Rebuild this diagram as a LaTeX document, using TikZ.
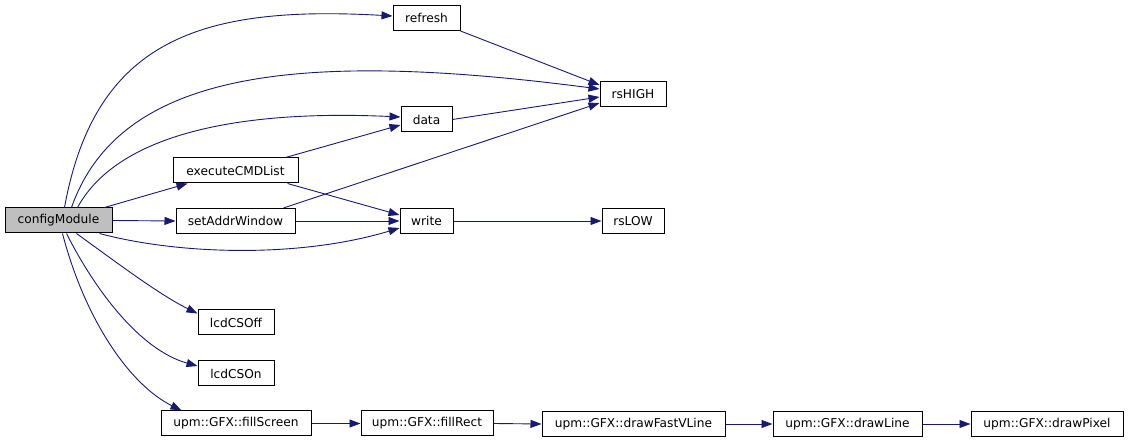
\documentclass[tikz,border=0pt]{standalone}
\usepackage{fontspec}
\setmainfont{DejaVu Sans}
\usetikzlibrary{arrows.meta}
\definecolor{edgecol}{HTML}{191970}
\definecolor{rootfill}{HTML}{BFBFBF}
\tikzset{
  fn/.style={draw=black, line width=1pt, fill=white, minimum height=25pt, inner sep=0pt, font=\fontsize{12.2}{14}\selectfont},
  rootfn/.style={fn, fill=rootfill},
  call/.style={draw=edgecol, line width=0.9pt, -{Triangle[length=11pt,width=8pt]}},
}
\begin{document}
\begin{tikzpicture}[x=1pt,y=-1pt]
\useasboundingbox (0,0) rectangle (1128,443);
\node[rootfn, minimum width=107pt] (cm) at (58.5,220.5) {configModule};
\node[fn, minimum width=67pt] (refresh) at (426.5,18) {refresh};
\node[fn, minimum width=66pt] (rshigh) at (633,94) {rsHIGH};
\node[fn, minimum width=51pt] (data) at (426.5,119.5) {data};
\node[fn, minimum width=125pt] (exec) at (235.5,170.5) {executeCMDList};
\node[fn, minimum width=119pt] (saw) at (235.5,221) {setAddrWindow};
\node[fn, minimum width=53pt] (write) at (426.5,221) {write};
\node[fn, minimum width=62pt] (rslow) at (633,221) {rsLOW};
\node[fn, minimum width=76pt] (csoff) at (236,322.5) {lcdCSOff};
\node[fn, minimum width=76pt] (cson) at (236,373.5) {lcdCSOn};
\node[fn, minimum width=150pt] (fillscreen) at (236,423.5) {upm::GFX::fillScreen};
\node[fn, minimum width=132pt] (fillrect) at (427,423.5) {upm::GFX::fillRect};
\node[fn, minimum width=183pt] (dfvl) at (633.5,424) {upm::GFX::drawFastVLine};
\node[fn, minimum width=149pt] (dline) at (847.5,424) {upm::GFX::drawLine};
\node[fn, minimum width=152pt] (dpixel) at (1047,424) {upm::GFX::drawPixel};

% configModule calls
\draw[call] ([xshift=60pt]cm.north west) .. controls (95,40) and (200,5) .. ([yshift=2pt]refresh.west);
\draw[call] ([xshift=67pt]cm.north west) .. controls (120,70) and (300,50) .. ([yshift=5pt]rshigh.west);
\draw[call] ([xshift=73pt]cm.north west) .. controls (120,130) and (250,110) .. ([yshift=2.5pt]data.west);
\draw[call] ([xshift=100pt]cm.north west) -- ([xshift=15pt]exec.south west);
\draw[call] (cm.east) -- (saw.west);
\draw[call] ([xshift=95pt]cm.south west) .. controls (180,255) and (300,258) .. ([yshift=-7pt]write.west);
\draw[call] ([xshift=72pt]cm.south west) .. controls (120,265) and (160,295) .. ([yshift=9pt]csoff.west);
\draw[call] ([xshift=62pt]cm.south west) .. controls (95,290) and (140,350) .. ([yshift=7.5pt]cson.west);
\draw[call] ([xshift=58pt]cm.south west) .. controls (85,320) and (130,385) .. ([xshift=21pt]fillscreen.north west);

% others
\draw[call] ([xshift=-13pt]exec.north east) -- ([yshift=-5.5pt]data.west);
\draw[call] ([xshift=-11pt]exec.south east) -- ([yshift=6pt]write.west);
\draw[call] ([xshift=-12pt]saw.north east) -- ([yshift=-9pt]rshigh.west);
\draw[call] (saw.east) -- (write.west);
\draw[call] (refresh.south east) -- ([yshift=9pt]rshigh.west);
\draw[call] (data.east) -- ([yshift=-3pt]rshigh.west);
\draw[call] (write.east) -- (rslow.west);
\draw[call] (fillscreen.east) -- (fillrect.west);
\draw[call] (fillrect.east) -- (dfvl.west);
\draw[call] (dfvl.east) -- (dline.west);
\draw[call] (dline.east) -- (dpixel.west);
\end{tikzpicture}
\end{document}
